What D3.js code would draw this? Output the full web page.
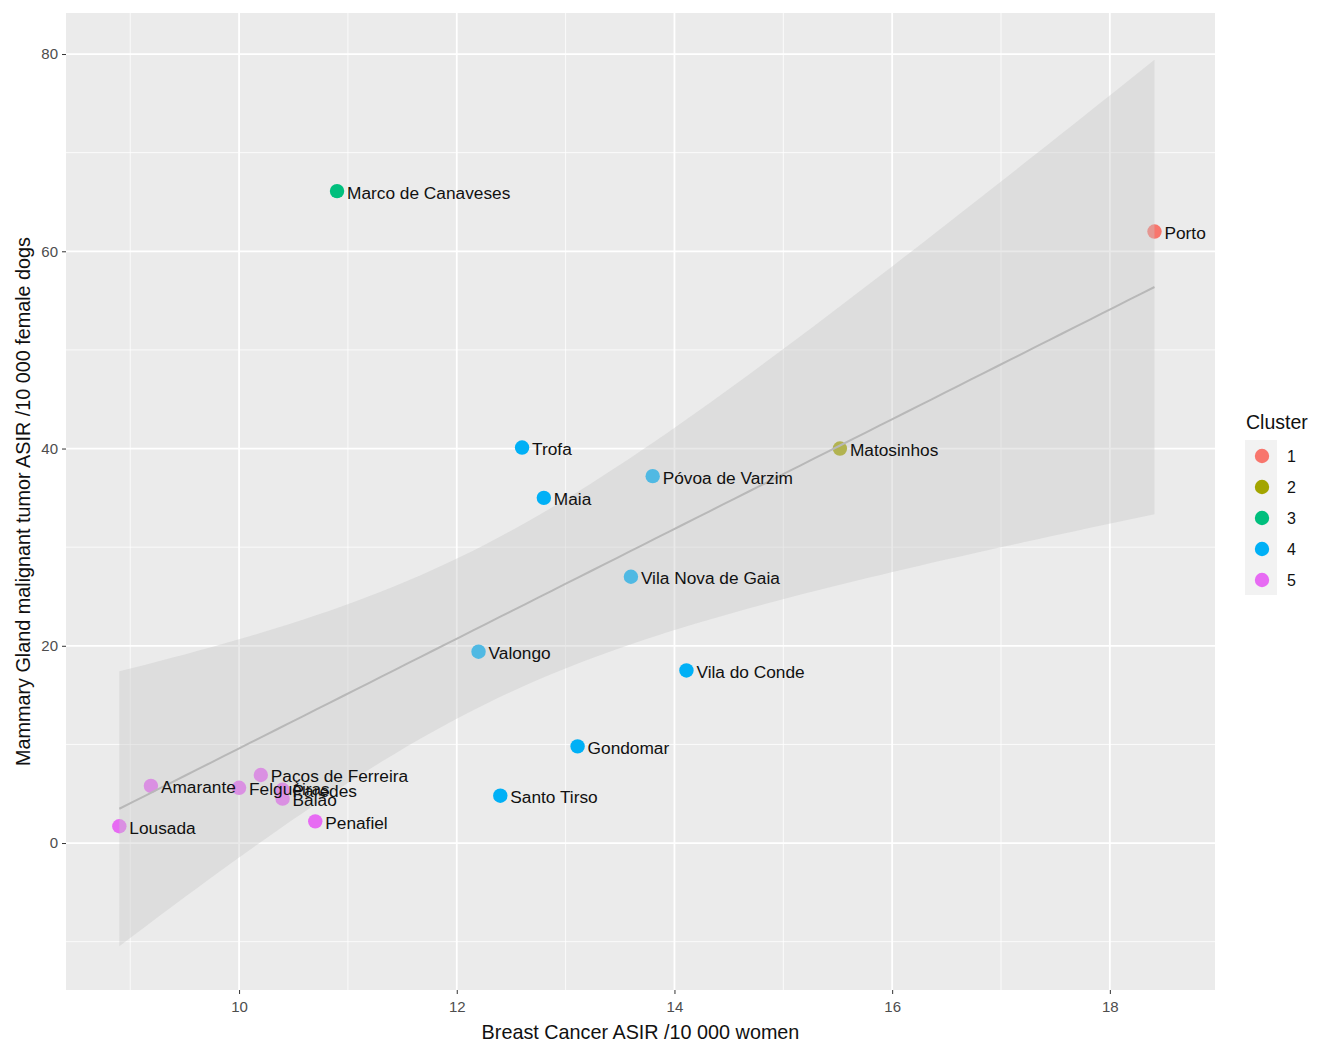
<!DOCTYPE html>
<html>
<head>
    <meta charset="utf-8">
    <title>ASIR scatter</title>
    <script src="https://d3js.org/d3.v7.min.js"></script>
    <style>
        body { margin: 0; background: #fff; }
        svg { font-family: "Liberation Sans", Arial, sans-serif; }
        .tick text { fill: #4d4d4d; font-size: 15px; }
    </style>
</head>
<body>
    <svg width="1325" height="1055" id="chart"></svg>
    <script>
        // Data
        const places = ["Porto", "Matosinhos", "Marco de Canaveses", "Trofa", "Póvoa de Varzim", "Maia",
            "Vila Nova de Gaia", "Valongo", "Vila do Conde", "Gondomar", "Santo Tirso",
            "Amarante", "Felgueiras", "Paços de Ferreira", "Paredes", "Baião", "Penafiel", "Lousada"];
        const breastAsir = [18.41, 15.52, 10.90, 12.60, 13.80, 12.80, 13.60, 12.20, 14.11, 13.11, 12.40,
            9.19, 10.00, 10.20, 10.40, 10.40, 10.70, 8.90];
        const dogAsir = [62.0, 40.0, 66.1, 40.1, 37.2, 35.0, 27.0, 19.4, 17.5, 9.8, 4.8,
            5.8, 5.6, 6.9, 5.4, 4.5, 2.2, 1.7];
        const cluster = [1, 2, 3, 4, 4, 4, 4, 4, 4, 4, 4, 5, 5, 5, 5, 5, 5, 5];

        const clusterLevels = [1, 2, 3, 4, 5];
        const clusterColors = ["#F8766D", "#A3A500", "#00BF7D", "#00B0F6", "#E76BF3"];
        const xTicks = [10, 12, 14, 16, 18];
        const yTicks = [0, 20, 40, 60, 80];

        const points = places.map((p, i) => ({ name: p, x: breastAsir[i], y: dogAsir[i], c: cluster[i] }));

        const svg = d3.select("#chart");
        const panel = { left: 66, top: 13, right: 1215, bottom: 990 };

        const x = d3.scaleLinear().domain([8.41, 18.966]).range([panel.left, panel.right]);
        const y = d3.scaleLinear().domain([-14.9, 84.16]).range([panel.bottom, panel.top]);
        const color = d3.scaleOrdinal().domain(clusterLevels).range(clusterColors);

        // panel background
        svg.append("rect")
            .attr("x", panel.left).attr("y", panel.top)
            .attr("width", panel.right - panel.left).attr("height", panel.bottom - panel.top)
            .attr("fill", "#ebebeb");

        // grid: minor then major
        const xMinor = d3.range(9, 19, 2);
        const yMinor = d3.range(-10, 81, 20);
        const grid = svg.append("g");
        grid.selectAll(".vmin").data(xMinor).enter().append("line")
            .attr("x1", d => x(d)).attr("x2", d => x(d))
            .attr("y1", panel.top).attr("y2", panel.bottom)
            .attr("stroke", "#fff").attr("stroke-width", 0.8);
        grid.selectAll(".hmin").data(yMinor).enter().append("line")
            .attr("y1", d => y(d)).attr("y2", d => y(d))
            .attr("x1", panel.left).attr("x2", panel.right)
            .attr("stroke", "#fff").attr("stroke-width", 0.8);
        grid.selectAll(".vmaj").data(xTicks).enter().append("line")
            .attr("x1", d => x(d)).attr("x2", d => x(d))
            .attr("y1", panel.top).attr("y2", panel.bottom)
            .attr("stroke", "#fff").attr("stroke-width", 1.8);
        grid.selectAll(".hmaj").data(yTicks).enter().append("line")
            .attr("y1", d => y(d)).attr("y2", d => y(d))
            .attr("x1", panel.left).attr("x2", panel.right)
            .attr("stroke", "#fff").attr("stroke-width", 1.8);

        // points (drawn under the smoother ribbon, like the original)
        svg.append("g").selectAll("circle")
            .data(points).enter().append("circle")
            .attr("cx", d => x(d.x)).attr("cy", d => y(d.y))
            .attr("r", 7.2)
            .attr("fill", d => color(d.c));

        // linear fit with 95% confidence band
        const n = points.length;
        const mx = d3.mean(points, d => d.x), my = d3.mean(points, d => d.y);
        const sxx = d3.sum(points, d => (d.x - mx) ** 2);
        const slope = d3.sum(points, d => (d.x - mx) * (d.y - my)) / sxx;
        const icpt = my - slope * mx;
        const sse = d3.sum(points, d => (d.y - icpt - slope * d.x) ** 2);
        const s = Math.sqrt(sse / (n - 2));
        const tq = 2.12; // t(0.975, df = n - 2)
        const xMin = d3.min(breastAsir), xMax = d3.max(breastAsir);
        const fit = d3.range(80).map(i => {
            const xv = xMin + (xMax - xMin) * i / 79;
            const yv = icpt + slope * xv;
            const se = s * Math.sqrt(1 / n + (xv - mx) ** 2 / sxx);
            return { x: xv, y: yv, lo: yv - tq * se, hi: yv + tq * se };
        });

        svg.append("path")
            .datum(fit)
            .attr("d", d3.area().x(d => x(d.x)).y0(d => y(d.lo)).y1(d => y(d.hi)))
            .attr("fill", "#c8c8c8").attr("fill-opacity", 0.4);

        svg.append("path")
            .datum(fit)
            .attr("d", d3.line().x(d => x(d.x)).y(d => y(d.y)))
            .attr("fill", "none").attr("stroke", "#b8b8b8").attr("stroke-width", 2);

        // labels
        svg.append("g").selectAll("text")
            .data(points).enter().append("text")
            .attr("x", d => x(d.x) + 10).attr("y", d => y(d.y) + 7.5)
            .attr("font-size", "17.3px").attr("fill", "#111")
            .text(d => d.name);

        // axes
        const xAxis = svg.append("g")
            .attr("transform", `translate(0,${panel.bottom})`)
            .call(d3.axisBottom(x).tickValues(xTicks).tickSize(4).tickPadding(7));
        const yAxis = svg.append("g")
            .attr("transform", `translate(${panel.left},0)`)
            .call(d3.axisLeft(y).tickValues(yTicks).tickSize(4).tickPadding(4));
        [xAxis, yAxis].forEach(a => {
            a.select(".domain").remove();
            a.selectAll(".tick line").attr("stroke", "#333");
            a.selectAll(".tick text").attr("font-family", "Liberation Sans, Arial, sans-serif");
        });

        svg.append("text")
            .attr("x", (panel.left + panel.right) / 2).attr("y", 1039)
            .attr("text-anchor", "middle").attr("font-size", "19.8px").attr("fill", "#111")
            .text("Breast Cancer ASIR /10 000 women");
        svg.append("text")
            .attr("transform", `translate(30,${(panel.top + panel.bottom) / 2}) rotate(-90)`)
            .attr("text-anchor", "middle").attr("font-size", "19.8px").attr("fill", "#111")
            .text("Mammary Gland malignant tumor ASIR /10 000 female dogs");

        // legend
        const legend = svg.append("g").attr("transform", "translate(1245,0)");
        legend.append("text")
            .attr("x", 1).attr("y", 429)
            .attr("font-size", "19.5px").attr("fill", "#111")
            .text("Cluster");
        const keys = legend.selectAll(".key").data(clusterLevels).enter().append("g")
            .attr("transform", (d, i) => `translate(0,${440 + i * 31})`);
        keys.append("rect")
            .attr("width", 32).attr("height", 31)
            .attr("fill", "#f2f2f2");
        keys.append("circle")
            .attr("cx", 17).attr("cy", 16).attr("r", 7.2)
            .attr("fill", d => color(d));
        keys.append("text")
            .attr("x", 42).attr("y", 22)
            .attr("font-size", "16px").attr("fill", "#111")
            .text(d => d);
    </script>
</body>
</html>
